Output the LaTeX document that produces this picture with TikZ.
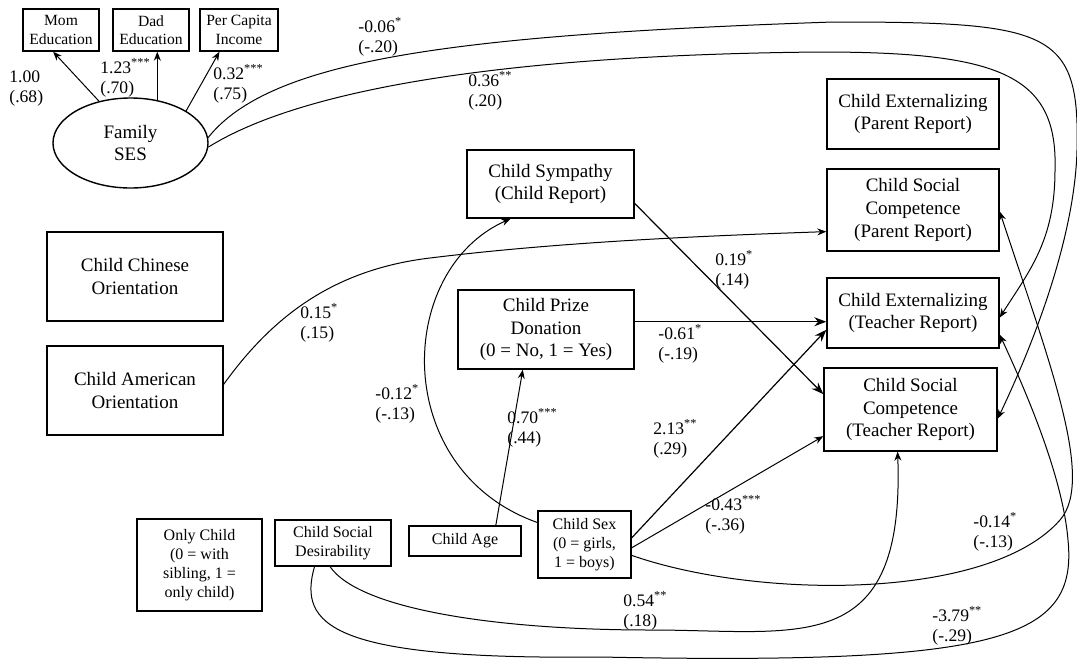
\documentclass[tikz,border=0pt]{standalone}
\usepackage{fontspec}
\setmainfont{Liberation Serif}
\usetikzlibrary{arrows.meta, shapes.geometric}

\begin{document}
\begin{tikzpicture}[x=0.5pt,y=-0.5pt,
	box/.style={draw, line width=0.7pt, align=center, inner sep=0pt, font=\fontsize{9.5}{11.3}\selectfont},
	midbox/.style={box, font=\fontsize{8}{9.5}\selectfont},
	smallbox/.style={box, font=\fontsize{7.8}{9.2}\selectfont},
	coef/.style={align=left, anchor=west, inner sep=0pt, font=\fontsize{8.8}{10}\selectfont},
	arr/.style={-{Stealth[length=4.5pt,width=3.5pt]}, line width=0.5pt},
	bigarr/.style={-{Stealth[length=6pt,width=4.5pt]}, line width=0.6pt}]
					\useasboundingbox (0,0) rectangle (1077,659);
					\node[smallbox, minimum width=38pt, minimum height=21pt] (mom) at (61,30) {Mom\\Education};
					\node[smallbox, minimum width=38pt, minimum height=21pt] (dad) at (151,30) {Dad\\Education};
					\node[smallbox, minimum width=39pt, minimum height=21pt] (inc) at (239,30) {Per Capita\\Income};
					\node[box, ellipse, minimum width=77.5pt, minimum height=45pt] (ses) at (130.5,143) {Family\\SES};
					\node[box, minimum width=86pt, minimum height=35pt] (extpar) at (913,114) {Child Externalizing\\(Parent Report)};
					\node[box, minimum width=86pt, minimum height=41pt] (scpar) at (913,210) {Child Social\\Competence\\(Parent Report)};
					\node[box, minimum width=86pt, minimum height=35pt] (extteach) at (913,313) {Child Externalizing\\(Teacher Report)};
					\node[box, minimum width=86.5pt, minimum height=41.5pt] (scteach) at (910.5,409.5) {Child Social\\Competence\\(Teacher Report)};
					\node[box, minimum width=83.5pt, minimum height=34pt] (symp) at (550.5,184) {Child Sympathy\\(Child Report)};
					\node[box, minimum width=88pt, minimum height=39.5pt] (prize) at (546,329.5) {Child Prize\\Donation\\(0 = No, 1 = Yes)};
					\node[box, minimum width=88pt, minimum height=44.5pt] (chin) at (135,276.5) {Child Chinese\\Orientation};
					\node[box, minimum width=88pt, minimum height=44.5pt] (amer) at (135,390.5) {Child American\\Orientation};
					\node[midbox, minimum width=62.5pt, minimum height=46pt] (only) at (199.5,565) {Only Child\\(0 = with\\sibling, 1 =\\only child)};
					\node[midbox, minimum width=58pt, minimum height=23pt] (desir) at (333,543) {Child Social\\Desirability};
					\node[midbox, minimum width=56pt, minimum height=15pt] (age) at (465,541) {Child Age};
					\node[midbox, minimum width=46.5pt, minimum height=33.5pt] (csex) at (584.5,544.5) {Child Sex\\(0 = girls,\\1 = boys)};
					\node[coef] (l100) at (9,89) {1.00\\(.68)};
					\node[coef] (l123) at (100,78) {1.23\textsuperscript{***}\\(.70)};
					\node[coef] (l032) at (213,84) {0.32\textsuperscript{***}\\(.75)};
					\node[coef] (l006) at (358,37) {-0.06\textsuperscript{*}\\(-.20)};
					\node[coef] (l036) at (468,91) {0.36\textsuperscript{**}\\(.20)};
					\node[coef] (l019) at (715,270) {0.19\textsuperscript{*}\\(.14)};
					\node[coef] (l061) at (658,344) {-0.61\textsuperscript{*}\\(-.19)};
					\node[coef] (l015) at (300,323) {0.15\textsuperscript{*}\\(.15)};
					\node[coef] (l012) at (375,404) {-0.12\textsuperscript{*}\\(-.13)};
					\node[coef] (l070) at (507,428) {0.70\textsuperscript{***}\\(.44)};
					\node[coef] (l213) at (653,439) {2.13\textsuperscript{**}\\(.29)};
					\node[coef] (l043) at (705,515) {-0.43\textsuperscript{***}\\(-.36)};
					\node[coef] (l054) at (623,611) {0.54\textsuperscript{**}\\(.18)};
					\node[coef] (l014) at (973,532) {-0.14\textsuperscript{*}\\(-.13)};
					\node[coef] (l379) at (932,626) {-3.79\textsuperscript{**}\\(-.29)};
					\draw[arr] (ses.127) -- (mom.250);
					\draw[arr] (ses.58) -- (ses.58 |- dad.south);
					\draw[arr] (ses.30) -- (inc.228);
					\draw[bigarr] (prize.5) -- (prize.5 -| extteach.west);
					\draw[bigarr] (symp.-13) -- (scteach.170);
					\draw[bigarr] (csex.8) -- (extteach.191);
					\draw[arr] (csex.-4) -- (scteach.197);
					\draw[arr] (age.27) -- (prize.240);
					\draw[arr] (csex.155) .. controls (390,470) and (395,270) .. (symp.221);
					\draw[arr] (amer.4) .. controls (270,320) and (330,270) .. (430,258) .. controls (560,242) and (700,236) .. (scpar.194);
					\draw[arr] (desir.263) .. controls (360,610) and (500,630) .. (650,630) .. controls (800,630) and (905,660) .. (scteach.253);
					\draw[arr] (desir.232) .. controls (298,625) and (330,660) .. (600,657) .. controls (1000,665) and (1078,640) .. (1068,540) .. controls (1063,480) and (1030,400) .. (extteach.-14);
					\draw[arr] (csex.-13) .. controls (760,600) and (990,600) .. (1060,520) .. controls (1095,480) and (1050,364) .. (scpar.-1);
					\draw[arr] (ses.4) .. controls (270,60) and (450,35) .. (833,22) .. controls (1050,22) and (1080,30) .. (1077,150) .. controls (1075,230) and (1040,330) .. (scteach.-6);
					\draw[arr] (ses.-3) .. controls (300,90) and (500,55) .. (820,52) .. controls (1000,52) and (1058,75) .. (1055,170) .. controls (1055,240) and (1030,270) .. (extteach.-3);
\end{tikzpicture}
\end{document}
